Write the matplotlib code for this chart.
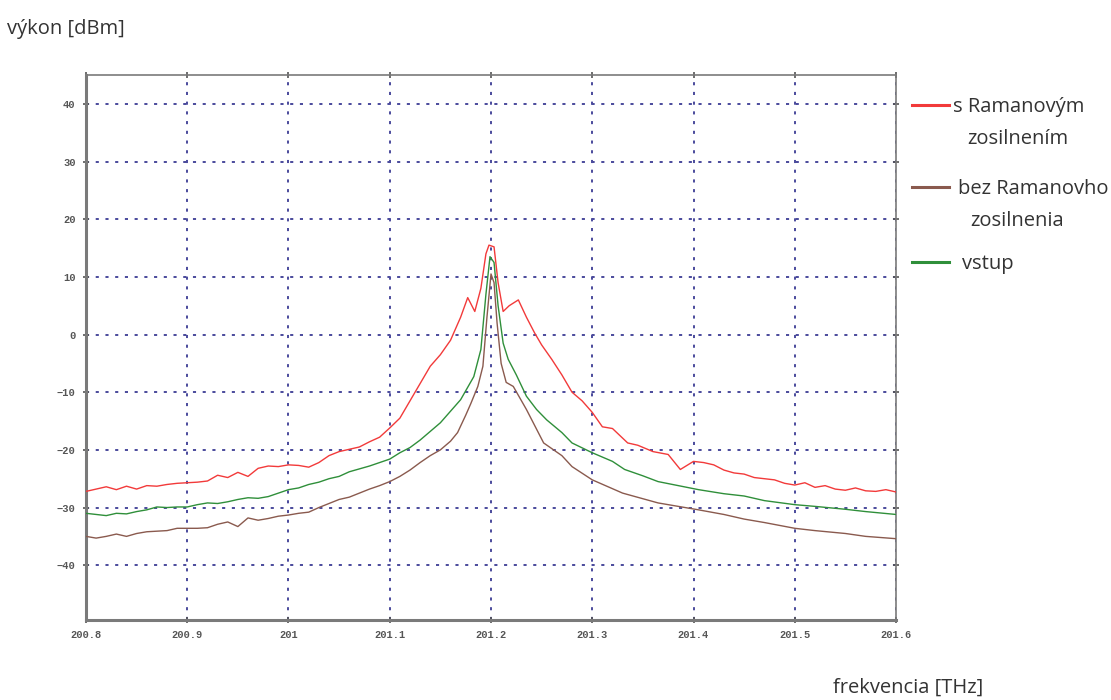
import matplotlib
matplotlib.use("Agg")
import matplotlib.pyplot as plt
from matplotlib.lines import Line2D

# ---------------- data ----------------
x_ticks = [200.8, 200.9, 201.0, 201.1, 201.2, 201.3, 201.4, 201.5, 201.6]
x_tick_labels = ["200.8", "200.9", "201", "201.1", "201.2", "201.3", "201.4", "201.5", "201.6"]
y_ticks = [40, 30, 20, 10, 0, -10, -20, -30, -40]

red_x = [200.80, 200.81, 200.82, 200.83, 200.84, 200.85, 200.86, 200.87, 200.88, 200.89,
         200.90, 200.91, 200.92, 200.93, 200.94, 200.95, 200.96, 200.97, 200.98, 200.99,
         201.00, 201.01, 201.02, 201.03, 201.04, 201.05, 201.06, 201.07, 201.08, 201.09,
         201.10, 201.11, 201.12, 201.13, 201.14, 201.15, 201.16, 201.17, 201.177, 201.184,
         201.19, 201.195, 201.198, 201.203, 201.207, 201.212, 201.218, 201.227, 201.235, 201.243,
         201.25, 201.26, 201.27, 201.28, 201.29, 201.30, 201.31, 201.32, 201.335, 201.345,
         201.36, 201.375, 201.387, 201.40, 201.41, 201.42, 201.43, 201.44, 201.45, 201.46,
         201.47, 201.48, 201.49, 201.50, 201.51, 201.52, 201.53, 201.54, 201.55, 201.56,
         201.57, 201.58, 201.59, 201.60]
red_y = [-27.2, -26.8, -26.4, -26.9, -26.3, -26.8, -26.2, -26.3, -26.0, -25.8,
         -25.7, -25.6, -25.4, -24.4, -24.8, -23.9, -24.6, -23.2, -22.8, -22.9,
         -22.6, -22.7, -23.0, -22.2, -21.0, -20.3, -19.9, -19.5, -18.6, -17.8,
         -16.2, -14.5, -11.5, -8.5, -5.5, -3.5, -1.0, 3.0, 6.4, 4.0,
         8.0, 14.0, 15.5, 15.2, 9.0, 4.0, 5.0, 6.0, 3.0, 0.3,
         -1.8, -4.3, -7.0, -10.0, -11.5, -13.5, -16.0, -16.3, -18.8, -19.2,
         -20.3, -20.8, -23.4, -22.0, -22.2, -22.6, -23.5, -24.0, -24.2, -24.8,
         -25.0, -25.2, -25.8, -26.1, -25.7, -26.5, -26.2, -26.8, -27.0, -26.6,
         -27.1, -27.2, -26.9, -27.3]

brown_x = [200.80, 200.81, 200.82, 200.83, 200.84, 200.85, 200.86, 200.87, 200.88, 200.89,
           200.90, 200.91, 200.92, 200.93, 200.94, 200.95, 200.96, 200.97, 200.98, 200.99,
           201.00, 201.01, 201.02, 201.03, 201.04, 201.05, 201.06, 201.07, 201.08, 201.09,
           201.10, 201.11, 201.12, 201.13, 201.14, 201.15, 201.16, 201.167, 201.175, 201.18,
           201.187, 201.192, 201.196, 201.200, 201.203, 201.206, 201.21, 201.215, 201.222, 201.235,
           201.252, 201.27, 201.28, 201.30, 201.33, 201.365, 201.405, 201.43, 201.45, 201.47,
           201.50, 201.52, 201.55, 201.57, 201.60]
brown_y = [-35.0, -35.3, -35.0, -34.6, -35.0, -34.5, -34.2, -34.1, -34.0, -33.6,
           -33.6, -33.6, -33.5, -32.9, -32.5, -33.3, -31.8, -32.2, -31.9, -31.5,
           -31.3, -31.0, -30.8, -30.0, -29.3, -28.6, -28.2, -27.5, -26.8, -26.2,
           -25.5, -24.6, -23.5, -22.2, -21.0, -20.0, -18.5, -17.0, -14.0, -12.0,
           -9.0, -5.5, 3.0, 10.5, 9.0, 2.0, -5.0, -8.3, -9.0, -13.0,
           -18.8, -21.0, -22.9, -25.2, -27.5, -29.2, -30.4, -31.2, -32.0, -32.6,
           -33.6, -34.0, -34.5, -35.0, -35.4]

green_x = [200.80, 200.81, 200.82, 200.83, 200.84, 200.85, 200.86, 200.87, 200.88, 200.89,
           200.90, 200.91, 200.92, 200.93, 200.94, 200.95, 200.96, 200.97, 200.98, 200.99,
           201.00, 201.01, 201.02, 201.03, 201.04, 201.05, 201.06, 201.07, 201.08, 201.09,
           201.10, 201.11, 201.12, 201.13, 201.14, 201.15, 201.16, 201.17, 201.183, 201.19,
           201.195, 201.199, 201.203, 201.207, 201.212, 201.217, 201.225, 201.235, 201.245, 201.255,
           201.27, 201.28, 201.30, 201.32, 201.332, 201.35, 201.365, 201.385, 201.405, 201.43,
           201.45, 201.47, 201.50, 201.52, 201.55, 201.57, 201.60]
green_y = [-31.0, -31.2, -31.4, -31.0, -31.1, -30.7, -30.4, -29.9, -30.0, -29.9,
           -29.9, -29.5, -29.2, -29.3, -29.0, -28.6, -28.3, -28.4, -28.1, -27.5,
           -26.9, -26.6, -26.0, -25.6, -25.0, -24.6, -23.8, -23.3, -22.8, -22.2,
           -21.6, -20.5, -19.6, -18.3, -16.8, -15.3, -13.3, -11.3, -7.3, -2.6,
           7.0, 13.5, 12.5, 5.0, -1.5, -4.3, -7.0, -10.7, -13.0, -14.8,
           -17.0, -18.8, -20.5, -22.0, -23.4, -24.5, -25.5, -26.2, -26.9, -27.6,
           -28.0, -28.8, -29.5, -29.8, -30.3, -30.7, -31.2]

legend_line1 = ["s Ramanovým", "bez Ramanovho", "vstup"]
legend_line2 = ["zosilnením", "zosilnenia", ""]
series_colors = ["#f23a3a", "#8a5a4e", "#2f8f3a"]

# ---------------- figure ----------------
W, H = 1111, 700
fig = plt.figure(figsize=(W / 100, H / 100), dpi=100)
ax = fig.add_axes([86 / W, 1 - 620 / H, (896 - 86) / W, (620 - 75) / H])

ax.plot(red_x, red_y, color=series_colors[0], lw=1.0, zorder=3)
ax.plot(brown_x, brown_y, color=series_colors[1], lw=1.0, zorder=4)
ax.plot(green_x, green_y, color=series_colors[2], lw=1.0, zorder=5)

ax.set_xlim(200.8, 201.6)
ax.set_ylim(-49.5, 45.0)
ax.set_xticks(x_ticks)
ax.set_xticklabels(x_tick_labels)
ax.set_yticks(y_ticks)

ax.grid(True, color="#4a4a9c", linestyle=(0, (1.6, 3.4)), linewidth=1.4)
for s in ax.spines.values():
    s.set_color("#7a7a7a")
    s.set_linewidth(1.2)
ax.spines["left"].set_linewidth(2.2)
ax.spines["bottom"].set_linewidth(2.2)
ax.tick_params(axis="both", direction="inout", length=5, width=1.2, color="#555555",
               labelsize=7.5, labelcolor="#555555", pad=5, top=True, right=True)
for lab in ax.get_xticklabels() + ax.get_yticklabels():
    lab.set_fontfamily("Liberation Mono")
    lab.set_fontweight("bold")

# axis titles
fig.text(7 / W, 1 - 29 / H, "výkon [dBm]", fontsize=14.5, family="Open Sans",
         color="#333333", va="center", ha="left")
fig.text(833 / W, 1 - 688 / H, "frekvencia [THz]", fontsize=14.5, family="Open Sans",
         color="#333333", va="center", ha="left")

# legend drawn manually
legend_line_y = [105, 187, 262]
legend_x1 = [953, 958, 962]
legend_x2 = [967, 970, 970]
for l1, l2, col, yy, x1, x2 in zip(legend_line1, legend_line2, series_colors,
                                   legend_line_y, legend_x1, legend_x2):
    yf = 1 - yy / H
    fig.add_artist(Line2D([912 / W, 949 / W], [yf, yf], color=col, lw=2.2,
                          transform=fig.transFigure))
    fig.text(x1 / W, 1 - (yy + 2) / H, l1, fontsize=14.5, family="Open Sans",
             color="#333333", va="center", ha="left")
    if l2:
        fig.text(x2 / W, 1 - (yy + 34) / H, l2, fontsize=14.5, family="Open Sans",
                 color="#333333", va="center", ha="left")

fig.savefig("out.png", dpi=100, facecolor="white")
